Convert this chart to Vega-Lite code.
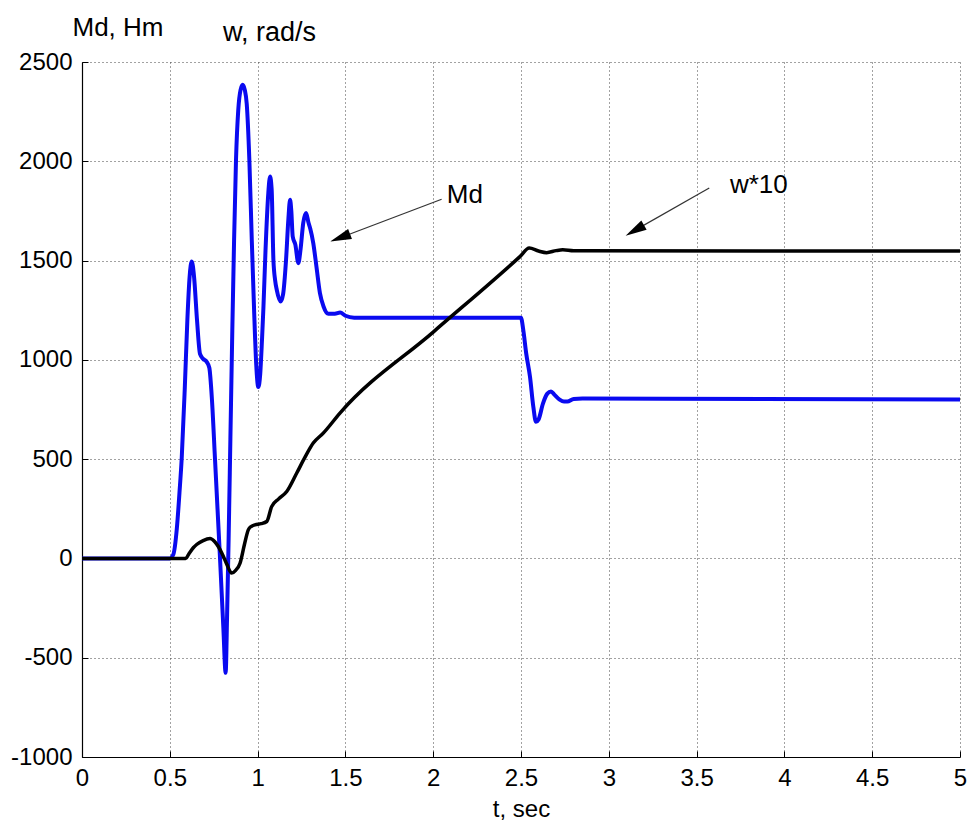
{
  "$schema": "https://vega.github.io/schema/vega-lite/v6.json",
  "width": 878,
  "height": 695,
  "autosize": {"type": "none"},
  "padding": {"left": 82, "top": 62, "right": 12, "bottom": 66},
  "background": "white",
  "config": {"view": {"stroke": null}, "font": "Liberation Sans"},
  "datasets": {
    "md": [
      {"t": 0, "v": 0}, {"t": 0.5, "v": 0}, {"t": 0.52, "v": 20}, {"t": 0.54, "v": 150}, {"t": 0.555, "v": 330},
      {"t": 0.568, "v": 507}, {"t": 0.585, "v": 850}, {"t": 0.6, "v": 1200}, {"t": 0.613, "v": 1420}, {"t": 0.625, "v": 1495},
      {"t": 0.638, "v": 1420}, {"t": 0.655, "v": 1200}, {"t": 0.672, "v": 1030}, {"t": 0.69, "v": 1005}, {"t": 0.71, "v": 990},
      {"t": 0.725, "v": 960}, {"t": 0.74, "v": 800}, {"t": 0.757, "v": 507}, {"t": 0.786, "v": 0}, {"t": 0.805, "v": -350},
      {"t": 0.818, "v": -576}, {"t": 0.826, "v": -300}, {"t": 0.835, "v": 100}, {"t": 0.845, "v": 600}, {"t": 0.856, "v": 1150},
      {"t": 0.866, "v": 1600}, {"t": 0.877, "v": 2007}, {"t": 0.89, "v": 2260}, {"t": 0.903, "v": 2360}, {"t": 0.915, "v": 2385},
      {"t": 0.927, "v": 2360}, {"t": 0.938, "v": 2290}, {"t": 0.953, "v": 2007}, {"t": 0.967, "v": 1600}, {"t": 0.98, "v": 1252},
      {"t": 0.992, "v": 980}, {"t": 1.004, "v": 863}, {"t": 1.015, "v": 930}, {"t": 1.025, "v": 1100}, {"t": 1.033, "v": 1260},
      {"t": 1.045, "v": 1550}, {"t": 1.061, "v": 1840}, {"t": 1.071, "v": 1923}, {"t": 1.08, "v": 1860}, {"t": 1.09, "v": 1504},
      {"t": 1.1, "v": 1400}, {"t": 1.109, "v": 1353}, {"t": 1.131, "v": 1294}, {"t": 1.145, "v": 1330}, {"t": 1.162, "v": 1504},
      {"t": 1.175, "v": 1705}, {"t": 1.185, "v": 1806}, {"t": 1.192, "v": 1750}, {"t": 1.2, "v": 1621}, {"t": 1.215, "v": 1580},
      {"t": 1.232, "v": 1487}, {"t": 1.245, "v": 1560}, {"t": 1.26, "v": 1690}, {"t": 1.276, "v": 1739}, {"t": 1.29, "v": 1690},
      {"t": 1.3, "v": 1660}, {"t": 1.317, "v": 1588}, {"t": 1.335, "v": 1470}, {"t": 1.355, "v": 1336}, {"t": 1.375, "v": 1270},
      {"t": 1.403, "v": 1232}, {"t": 1.44, "v": 1232}, {"t": 1.47, "v": 1238}, {"t": 1.5, "v": 1222}, {"t": 1.55, "v": 1212},
      {"t": 2.5, "v": 1212}, {"t": 2.513, "v": 1150}, {"t": 2.53, "v": 1030}, {"t": 2.551, "v": 916}, {"t": 2.57, "v": 765},
      {"t": 2.585, "v": 688}, {"t": 2.6, "v": 700}, {"t": 2.625, "v": 780}, {"t": 2.65, "v": 830}, {"t": 2.671, "v": 841},
      {"t": 2.69, "v": 825}, {"t": 2.72, "v": 800}, {"t": 2.745, "v": 790}, {"t": 2.764, "v": 790}, {"t": 2.8, "v": 803},
      {"t": 2.85, "v": 805}, {"t": 5.0, "v": 800}
    ],
    "w": [
      {"t": 0, "v": 0}, {"t": 0.59, "v": 0}, {"t": 0.61, "v": 25}, {"t": 0.635, "v": 55}, {"t": 0.653, "v": 70},
      {"t": 0.69, "v": 90}, {"t": 0.729, "v": 100}, {"t": 0.755, "v": 85}, {"t": 0.776, "v": 60}, {"t": 0.8, "v": 20},
      {"t": 0.825, "v": -30}, {"t": 0.852, "v": -74}, {"t": 0.875, "v": -60}, {"t": 0.9, "v": -24}, {"t": 0.925, "v": 70},
      {"t": 0.947, "v": 144}, {"t": 0.965, "v": 162}, {"t": 0.985, "v": 169}, {"t": 1.02, "v": 175}, {"t": 1.052, "v": 186},
      {"t": 1.08, "v": 261}, {"t": 1.12, "v": 300}, {"t": 1.166, "v": 337}, {"t": 1.223, "v": 430}, {"t": 1.27, "v": 510},
      {"t": 1.317, "v": 581}, {"t": 1.374, "v": 631}, {"t": 1.469, "v": 732}, {"t": 2.0, "v": 1140}, {"t": 2.494, "v": 1520},
      {"t": 2.547, "v": 1563}, {"t": 2.6, "v": 1548}, {"t": 2.646, "v": 1540}, {"t": 2.7, "v": 1550}, {"t": 2.738, "v": 1554},
      {"t": 2.8, "v": 1549}, {"t": 5.0, "v": 1548}
    ],
    "arrows": [
      {"t": 2.048, "v": 1809, "t2": 1.47, "v2": 1615},
      {"t": 3.572, "v": 1865, "t2": 3.148, "v2": 1652}
    ],
    "headMd": [{"t": 1.47, "v": 1615}],
    "headW": [{"t": 3.148, "v": 1652}],
    "notes": [
      {"t": 2.077, "v": 1789, "label": "Md"},
      {"t": 3.69, "v": 1840, "label": "w*10"}
    ],
    "wtitle": [{"t": 0.803, "v": 2607, "label": "w, rad/s"}]
  },
  "encoding": {
    "x": {
      "field": "t", "type": "quantitative",
      "scale": {"domain": [0, 5], "nice": false, "zero": false},
      "axis": {
        "values": [0, 0.5, 1, 1.5, 2, 2.5, 3, 3.5, 4, 4.5, 5],
        "labelExpr": "'' + datum.value",
        "labelFontSize": 24, "labelColor": "black", "labelPadding": 15, "labelFlush": false,
        "tickSize": -6, "tickColor": "black", "tickWidth": 1,
        "domainColor": "black", "domainWidth": 1.2,
        "grid": true, "gridColor": "#444444", "gridDash": [1, 3], "gridWidth": 1,
        "title": "t, sec", "titleFontSize": 24, "titleFontWeight": "normal", "titleColor": "black",
        "titleY": 52, "titleBaseline": "middle"
      }
    },
    "y": {
      "field": "v", "type": "quantitative",
      "scale": {"domain": [-1000, 2500], "nice": false, "zero": false},
      "axis": {
        "values": [-1000, -500, 0, 500, 1000, 1500, 2000, 2500],
        "labelExpr": "'' + datum.value",
        "labelFontSize": 24, "labelColor": "black", "labelPadding": 16, "labelFlush": false,
        "tickSize": -6, "tickColor": "black", "tickWidth": 1,
        "domainColor": "black", "domainWidth": 1.2,
        "grid": true, "gridColor": "#444444", "gridDash": [1, 3], "gridWidth": 1,
        "title": "Md, Hm", "titleFontSize": 26, "titleFontWeight": "normal", "titleColor": "black",
        "titleAngle": 0, "titleAlign": "left", "titleBaseline": "alphabetic", "titleX": -10, "titleY": -27
      }
    }
  },
  "layer": [
    {
      "data": {"name": "md"},
      "mark": {"type": "line", "color": "#0a0af0", "strokeWidth": 4, "interpolate": "monotone"}
    },
    {
      "data": {"name": "w"},
      "mark": {"type": "line", "color": "#000000", "strokeWidth": 3.5, "interpolate": "monotone"}
    },
    {
      "data": {"name": "arrows"},
      "mark": {"type": "rule", "color": "#333333", "strokeWidth": 1.2},
      "encoding": {
        "x2": {"field": "t2"},
        "y2": {"field": "v2"}
      }
    },
    {
      "data": {"name": "headMd"},
      "mark": {"type": "point", "shape": "M0,-1L0.5,1L-0.5,1Z", "filled": true, "color": "black", "opacity": 1, "size": 450, "angle": 249}
    },
    {
      "data": {"name": "headW"},
      "mark": {"type": "point", "shape": "M0,-1L0.5,1L-0.5,1Z", "filled": true, "color": "black", "opacity": 1, "size": 450, "angle": 240}
    },
    {
      "data": {"name": "notes"},
      "mark": {"type": "text", "fontSize": 26, "color": "black", "align": "left", "baseline": "alphabetic"},
      "encoding": {
        "text": {"field": "label"}
      }
    },
    {
      "data": {"name": "wtitle"},
      "mark": {"type": "text", "fontSize": 27, "color": "black", "align": "left", "baseline": "alphabetic"},
      "encoding": {
        "text": {"field": "label"}
      }
    }
  ]
}
